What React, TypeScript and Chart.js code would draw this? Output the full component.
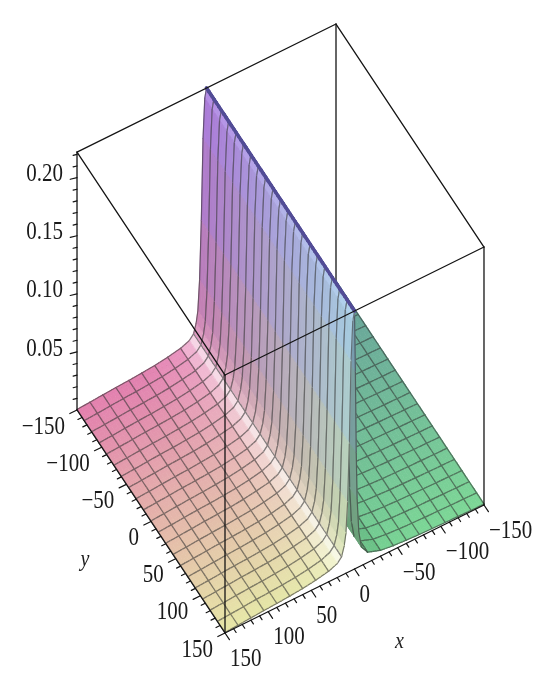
import React, { useEffect, useRef } from "react";
import { Chart, registerables } from "chart.js";

Chart.register(...registerables);

// ---------- values ----------
// cross-section of the surface z(x) (the surface does not vary along y)
const profileX = [-150, -135, -120, -105, -90, -75, -60, -45, -30, -15, -8, -5, -3, -2, -1, 0, 2, 4, 6, 8, 10, 12, 15, 20, 30, 45, 60, 75, 90, 105, 120, 135, 150];
const profileZ = [0.0008, 0.001, 0.0012, 0.0015, 0.0018, 0.0022, 0.0028, 0.0036, 0.005, 0.009, 0.016, 0.03, 0.06, 0.1, 0.17, 0.222, 0.214, 0.18, 0.11, 0.06, 0.034, 0.024, 0.016, 0.012, 0.009, 0.0068, 0.0052, 0.0042, 0.0034, 0.0028, 0.002, 0.0012, 0.0005];
// mesh lines of the plotted grid
const meshX = [-150, -135, -120, -105, -90, -75, -60, -45, -30, -15, 0, 15, 30, 45, 60, 75, 90, 105, 120, 135, 150];
const meshY = [-150, -135, -120, -105, -90, -75, -60, -45, -30, -15, 0, 15, 30, 45, 60, 75, 90, 105, 120, 135, 150];
// axes
const xTicks = [-150, -100, -50, 0, 50, 100, 150];
const yTicks = [-150, -100, -50, 0, 50, 100, 150];
const zTicks = [0.05, 0.1, 0.15, 0.2];
const xRange = [-150, 150];
const yRange = [-150, 150];
const zRange = [0, 0.222];

// ---------- view / style ----------
const W = 550;
const H = 687;
const VIEW = { ox: 280.5, oy: 457.5, exX: -0.8633, exY: 0.4267, eyX: 0.4933, eyY: 0.7433, ez: 1162 };
const DISPLAY_Z = 1397; // z units -> display units for lighting
const TEXT_STRETCH = 1.2;

const COL = {
  c000: [92, 156, 150],
  c100: [228, 112, 165],
  c010: [118, 220, 146],
  c110: [232, 232, 156],
  c001: [150, 116, 232],
  c101: [188, 116, 238],
  c011: [146, 206, 244],
  c111: [178, 216, 244],
};

function norm3(v: number[]) {
  const l = Math.hypot(v[0], v[1], v[2]) || 1;
  return [v[0] / l, v[1] / l, v[2] / l];
}
const LIGHT = norm3([0.6, 0.15, 0.78]);
const HALF = norm3([0.7, 0.05, 0.7]);

function project(x: number, y: number, z: number): [number, number] {
  const cx = (xRange[0] + xRange[1]) / 2;
  const cy = (yRange[0] + yRange[1]) / 2;
  return [
    VIEW.ox + VIEW.exX * (x - cx) + VIEW.eyX * (y - cy),
    VIEW.oy + VIEW.exY * (x - cx) + VIEW.eyY * (y - cy) - VIEW.ez * (z - zRange[0]),
  ];
}

function lerp(a: number[], b: number[], t: number) {
  return [a[0] + (b[0] - a[0]) * t, a[1] + (b[1] - a[1]) * t, a[2] + (b[2] - a[2]) * t];
}

function baseColor(x: number, y: number, z: number) {
  const cx = (xRange[0] + xRange[1]) / 2;
  const hx = (xRange[1] - xRange[0]) / 2;
  const r = (x - cx) / hx;
  const u = 0.5 + 0.5 * Math.tanh(r * 15);
  const v = (y - yRange[0]) / (yRange[1] - yRange[0]);
  const w = Math.max(0, Math.min(1, (z - zRange[0]) / (zRange[1] - zRange[0])));
  const b0 = lerp(lerp(COL.c000, COL.c100, u), lerp(COL.c010, COL.c110, u), v);
  const b1 = lerp(lerp(COL.c001, COL.c101, u), lerp(COL.c011, COL.c111, u), v);
  return lerp(b0, b1, Math.pow(w, 0.8));
}

type Facet = {
  pts: number[][];
  ky: number;
  kx: number;
  fill: string;
  line: string;
  edges: { a: number; b: number; w: number; crest: boolean }[];
};

function rgb(c: number[]) {
  const f = (n: number) => Math.round(Math.max(0, Math.min(255, n)));
  return `rgb(${f(c[0])},${f(c[1])},${f(c[2])})`;
}

function buildFacets(): Facet[] {
  const out: Facet[] = [];
  const MY = 3;
  let kx = 0;
  for (let i = 0; i < profileX.length - 1; i++) {
    const x0 = profileX[i], x1 = profileX[i + 1];
    const z0 = profileZ[i], z1 = profileZ[i + 1];
    const mx = x1 - x0 >= 10 ? 3 : 1;
    const dx = x1 - x0;
    const dZ = (z1 - z0) * DISPLAY_Z;
    const n = norm3([-dZ, 0, dx]);
    const diff = Math.max(0, n[0] * LIGHT[0] + n[1] * LIGHT[1] + n[2] * LIGHT[2]);
    const sp = Math.pow(Math.max(0, n[0] * HALF[0] + n[1] * HALF[1] + n[2] * HALF[2]), 6);
    const leftMesh = meshX.indexOf(x0) >= 0;
    const rightMesh = meshX.indexOf(x1) >= 0;
    for (let a = 0; a < mx; a++) {
      const xa = x0 + (dx * a) / mx, xb = x0 + (dx * (a + 1)) / mx;
      const za = z0 + ((z1 - z0) * a) / mx, zb = z0 + ((z1 - z0) * (a + 1)) / mx;
      let ky = 0;
      for (let j = 0; j < meshY.length - 1; j++) {
        const y0 = meshY[j], y1 = meshY[j + 1];
        for (let b = 0; b < MY; b++) {
          const ya = y0 + ((y1 - y0) * b) / MY, yb = y0 + ((y1 - y0) * (b + 1)) / MY;
          const pts = [
            [xa, ya, za],
            [xb, ya, zb],
            [xb, yb, zb],
            [xa, yb, za],
          ];
          const base = baseColor((xa + xb) / 2, (ya + yb) / 2, (za + zb) / 2);
          const f = 0.74 + 0.29 * diff;
          const s = 0.7 * sp;
          const c = [0, 1, 2].map((k) => base[k] * f * (1 - s) + 255 * s);
          const lc = [0, 1, 2].map((k) => c[k] * 0.4 + 32);
          const edges: { a: number; b: number; w: number; crest: boolean }[] = [];
          if (b === 0) edges.push({ a: 0, b: 1, w: 1.2, crest: false });
          if (b === MY - 1) edges.push({ a: 3, b: 2, w: 1.2, crest: false });
          if (a === 0 && leftMesh) edges.push({ a: 0, b: 3, w: x0 === 0 ? 3.4 : 1.2, crest: x0 === 0 });
          if (a === mx - 1 && rightMesh) edges.push({ a: 1, b: 2, w: x1 === 0 ? 3.4 : 1.2, crest: x1 === 0 });
          out.push({ pts, ky, kx, fill: rgb(c), line: rgb(lc), edges });
          ky++;
        }
      }
      kx++;
    }
  }
  // height-field painter order: the view looks toward -x and -y,
  // so cells with smaller y (then smaller x) lie farther away.
  out.sort((p, q) => (p.ky - q.ky) || (p.kx - q.kx));
  return out;
}

function fmtAxis(v: number) {
  return v < 0 ? "\u2212" + Math.abs(v) : String(v);
}

const surfacePlugin = {
  id: "surface3d",
  afterDatasetsDraw(chart: any) {
    const ctx: CanvasRenderingContext2D = chart.ctx;
    const xs = chart.scales.x;
    const ys = chart.scales.y;
    const P = (x: number, y: number, z: number) => {
      const p = project(x, y, z);
      return [xs.getPixelForValue(p[0]), ys.getPixelForValue(p[1])];
    };
    const X0 = xRange[0], X1 = xRange[1], Y0 = yRange[0], Y1 = yRange[1], Z0 = zRange[0], Z1 = zRange[1];
    const seg = (a: number[], b: number[], color = "#141414", w = 1.3) => {
      ctx.beginPath();
      ctx.moveTo(a[0], a[1]);
      ctx.lineTo(b[0], b[1]);
      ctx.strokeStyle = color;
      ctx.lineWidth = w;
      ctx.stroke();
    };
    ctx.save();
    ctx.lineCap = "round";
    ctx.lineJoin = "round";
    // hidden box edges (behind the surface)
    seg(P(X1, Y0, Z0), P(X0, Y0, Z0));
    seg(P(X0, Y0, Z0), P(X0, Y1, Z0));
    seg(P(X0, Y0, Z0), P(X0, Y0, Z1));

    // surface
    const facets = buildFacets();
    for (const f of facets) {
      const px = f.pts.map((p) => P(p[0], p[1], p[2]));
      ctx.beginPath();
      ctx.moveTo(px[0][0], px[0][1]);
      for (let k = 1; k < px.length; k++) ctx.lineTo(px[k][0], px[k][1]);
      ctx.closePath();
      ctx.fillStyle = f.fill;
      ctx.fill();
      ctx.strokeStyle = f.fill;
      ctx.lineWidth = 0.8;
      ctx.stroke();
      for (const e of f.edges) {
        ctx.beginPath();
        ctx.moveTo(px[e.a][0], px[e.a][1]);
        ctx.lineTo(px[e.b][0], px[e.b][1]);
        ctx.strokeStyle = e.crest ? "rgb(82,76,150)" : f.line;
        ctx.lineWidth = e.w;
        ctx.stroke();
      }
    }

    // visible box edges
    seg(P(X1, Y0, Z0), P(X1, Y0, Z1));
    seg(P(X1, Y1, Z0), P(X1, Y1, Z1));
    seg(P(X0, Y1, Z0), P(X0, Y1, Z1));
    seg(P(X1, Y0, Z1), P(X0, Y0, Z1));
    seg(P(X0, Y0, Z1), P(X0, Y1, Z1));
    seg(P(X0, Y1, Z1), P(X1, Y1, Z1));
    seg(P(X1, Y1, Z1), P(X1, Y0, Z1));
    seg(P(X1, Y0, Z0), P(X1, Y1, Z0));
    seg(P(X1, Y1, Z0), P(X0, Y1, Z0));

    // ticks
    const exn = norm3([VIEW.exX, VIEW.exY, 0]);
    const eyn = norm3([VIEW.eyX, VIEW.eyY, 0]);
    for (let v = Y0; v <= Y1 + 1e-9; v += 10) {
      const g = P(X1, v, Z0);
      const L = yTicks.indexOf(v) >= 0 ? 8 : 4.5;
      seg(g, [g[0] + exn[0] * L, g[1] + exn[1] * L], "#141414", 1.2);
    }
    for (let v = X0; v <= X1 + 1e-9; v += 10) {
      const g = P(v, Y1, Z0);
      const L = xTicks.indexOf(v) >= 0 ? 8 : 4.5;
      seg(g, [g[0] + eyn[0] * L, g[1] + eyn[1] * L], "#141414", 1.2);
    }
    for (let k = 1; k <= 22; k++) {
      const v = k / 100;
      const g = P(X1, Y0, v);
      const major = zTicks.some((t) => Math.abs(t - v) < 1e-9);
      const L = major ? 7 : 4;
      seg(g, [g[0] - 0.97 * L, g[1] + 0.24 * L], "#141414", 1.2);
    }

    // labels
    const text = (s: string, x: number, y: number, align: CanvasTextAlign, font: string) => {
      ctx.save();
      ctx.translate(x, y);
      ctx.scale(1, TEXT_STRETCH);
      ctx.font = font;
      ctx.textAlign = align;
      ctx.textBaseline = "middle";
      ctx.fillStyle = "#1a1a1a";
      ctx.fillText(s, 0, 0);
      ctx.restore();
    };
    const numFont = '21px "Liberation Serif", serif';
    for (const t of zTicks) {
      const g = P(X1, Y0, t);
      text(t.toFixed(2), g[0] - 14, g[1] - 3, "right", numFont);
    }
    for (const t of yTicks) {
      const g = P(X1, t, Z0);
      text(fmtAxis(t), g[0] - 12, g[1] + 17, "right", numFont);
    }
    for (const t of xTicks) {
      const g = P(t, Y1, Z0);
      text(fmtAxis(t), g[0] + 5, g[1] + 26, "left", numFont);
    }
    const xl = P(0, Y1, Z0);
    text("x", xl[0] + 45, xl[1] + 73, "center", 'italic 20px "Liberation Serif", serif');
    const yl = P(X1, 0, Z0);
    text("y", yl[0] - 66, yl[1] + 38, "center", 'italic 20px "Liberation Serif", serif');
    ctx.restore();
  },
};

export default function App() {
  const ref = useRef<HTMLCanvasElement | null>(null);
  useEffect(() => {
    document.body.style.margin = "0";
    document.body.style.background = "#ffffff";
    if (!ref.current) return;
    const chart = new Chart(ref.current, {
      type: "scatter",
      data: { datasets: [{ data: [], pointRadius: 0 }] },
      options: {
        animation: false,
        responsive: false,
        maintainAspectRatio: false,
        devicePixelRatio: 1,
        layout: { padding: 0 },
        plugins: { legend: { display: false }, tooltip: { enabled: false } },
        scales: {
          x: { type: "linear", min: 0, max: W, display: false },
          y: { type: "linear", min: 0, max: H, reverse: true, display: false },
        },
      },
      plugins: [surfacePlugin],
    });
    return () => chart.destroy();
  }, []);
  return <canvas ref={ref} width={W} height={H} style={{ display: "block" }} />;
}
